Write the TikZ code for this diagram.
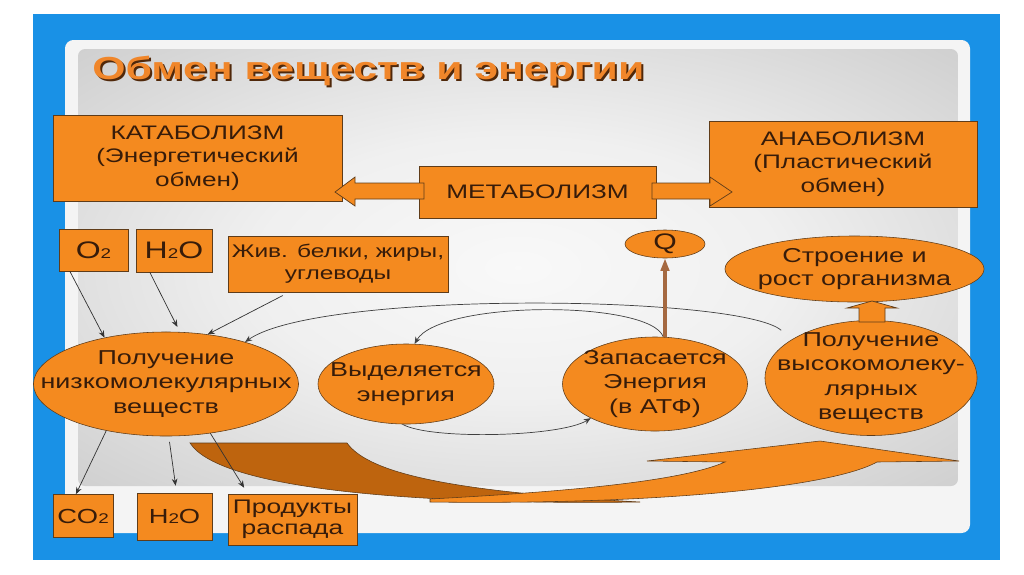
\documentclass[tikz,border=0pt]{standalone}
\usepackage{fontspec}
\setmainfont{Liberation Sans}[FakeStretch=1.34]
\usetikzlibrary{calc,arrows.meta,shapes.geometric}
\definecolor{slideblue}{RGB}{25,145,230}
\definecolor{slideorange}{RGB}{244,138,31}
\definecolor{darkorange}{RGB}{190,100,14}
\definecolor{edgebrown}{RGB}{95,60,25}
\definecolor{inkbrown}{RGB}{55,28,10}
\definecolor{stembrown}{RGB}{165,105,65}
\pgfdeclareradialshading{panelshade}{\pgfpoint{0bp}{0bp}}{color(0bp)=(gray!5); color(15bp)=(gray!12); color(50bp)=(gray!55); color(72bp)=(gray!75)}
\newcommand{\chemidx}[1]{{\fontsize{10}{10}\selectfont #1}}

\begin{document}
\begin{tikzpicture}[x=0.025cm, y=-0.025cm,
  box/.style={draw=edgebrown, fill=slideorange, text=inkbrown, align=center, inner sep=0pt, font=\fontsize{13.9}{16.8}\selectfont},
  blob/.style={draw=edgebrown, fill=slideorange, ellipse, inner sep=0pt},
  lbl/.style={align=center, text=inkbrown, inner sep=0pt, font=\fontsize{14.3}{17.4}\selectfont},
  barrow/.style={draw=edgebrown, fill=slideorange, line width=0.5pt},
  feed/.style={-{Stealth[length=5pt,width=4pt]}, black!80, line width=0.5pt},
  roundarrow/.style={-{Stealth[length=5pt,width=4pt]}, black!75, line width=0.5pt}]
  \useasboundingbox (0,0) rectangle (1024,574);

  % slide frame
  \fill[white] (0,0) rectangle (1024,574);
  \fill[slideblue] (33,14) rectangle (1000,560);
  \fill[gray!9, rounded corners=6] (65,40) rectangle (970,533);
  \shade[shading=panelshade, rounded corners=5] (78,49) rectangle (958,486);

  % title
  \node[anchor=base west, inner sep=0pt, text={rgb,255:red,80;green,40;blue,10}, font=\fontsize{22.7}{26}\selectfont\bfseries] (titleshade) at (94,81) {Обмен веществ и энергии};
  \node[anchor=base west, inner sep=0pt, text={rgb,255:red,240;green,134;blue,42}, font=\fontsize{22.7}{26}\selectfont\bfseries] (title) at (92,79) {Обмен веществ и энергии};

  % big curved arrow
  \filldraw[fill=darkorange, draw=edgebrown, line width=0.4pt] (190,443) -- (347,443) .. controls (370,475) and (460,492) .. (640,502) .. controls (420,505) and (220,490) .. (190,443) -- cycle;
  \filldraw[fill=slideorange, draw=edgebrown, line width=0.4pt] (430,499) .. controls (560,492) and (680,482) .. (725,462) -- (647,461) -- (820,441) -- (959,461) -- (877,462) .. controls (830,488) and (650,505) .. (430,502) -- cycle;

  % boxes
  \node[box, minimum width=7.225cm, minimum height=2.15cm] (kat) at (197.5,158) {КАТАБОЛИЗМ\\(Энергетический\\обмен)};
  \node[box, minimum width=5.925cm, minimum height=1.3cm] (meta) at (537.5,192) {МЕТАБОЛИЗМ};
  \node[box, minimum width=6.7cm, minimum height=2.15cm] (anab) at (843,164) {АНАБОЛИЗМ\\(Пластический\\обмен)};
  \node[box, minimum width=1.725cm, minimum height=1.05cm, font=\fontsize{17}{20}\selectfont] (o2) at (93.5,250) {O\chemidx{2}};
  \node[box, minimum width=1.9cm, minimum height=1.075cm, font=\fontsize{17}{20}\selectfont] (h2oin) at (174,250.5) {H\chemidx{2}O};
  \node[box, minimum width=5.5cm, minimum height=1.4cm, font=\fontsize{13}{15.6}\selectfont] (food) at (338,264) {Жив. белки, жиры,\\углеводы};
  \node[box, minimum width=1.5cm, minimum height=1.075cm, font=\fontsize{14.5}{17}\selectfont] (co2) at (83,516) {CO\chemidx{2}};
  \node[box, minimum width=1.875cm, minimum height=1.175cm, font=\fontsize{14.5}{17}\selectfont] (h2oout) at (174.5,516.5) {H\chemidx{2}O};
  \node[box, minimum width=3.225cm, minimum height=1.275cm, font=\fontsize{14}{15}\selectfont] (waste) at (292.5,519.5) {Продукты\\распада};

  % ellipses
  \node[blob, minimum width=2cm, minimum height=0.7cm, label={[lbl, font=\fontsize{16}{18}\selectfont]center:Q}] (q) at (665,244) {};
  \node[blob, minimum width=6.475cm, minimum height=1.65cm, label={[lbl, font=\fontsize{14.3}{16}\selectfont]center:Строение и\\рост организма}] (build) at (854.5,269) {};
  \node[blob, minimum width=6.625cm, minimum height=2.6cm, label={[lbl]center:Получение\\низкомолекулярных\\веществ}] (low) at (166,384) {};
  \node[blob, minimum width=4.4cm, minimum height=2cm, label={[lbl]center:Выделяется\\энергия}] (rel) at (406,384) {};
  \node[blob, minimum width=4.625cm, minimum height=2.35cm, label={[lbl]center:Запасается\\Энергия\\(в АТФ)}] (store) at (655,384) {};
  \node[blob, minimum width=5.3cm, minimum height=2.875cm, label={[lbl]center:Получение\\высокомолеку-\\лярных\\веществ}] (high) at (871,378) {};

  % block arrows
  \draw[barrow] (424,183) -- (355,183) -- (355,177) -- (335,192) -- (355,206) -- (355,199) -- (424,199) -- cycle;
  \draw[barrow] (652,183) -- (710,183) -- (710,177) -- (732,192) -- (710,206) -- (710,199) -- (652,199) -- cycle;
  \draw[barrow] (859,322) -- (859,308) -- (847,308) -- (872,301) -- (897,308) -- (885,308) -- (885,322) -- cycle;

  % inputs and outputs
  \draw[feed] (o2.222) -- (low.143);
  \draw[feed, shorten >=4pt] (h2oin.222) -- (low.75);
  \draw[feed, shorten <=5pt] (food.210) -- (low.50);
  \draw[feed] (low.218) -- (co2.108);
  \draw[feed, shorten <=4pt, shorten >=5pt] (low.-87) -- (h2oout.85);
  \draw[feed, shorten >=5pt] (low.-48) -- (waste.150);

  % energy cycle
  \draw[roundarrow, shorten <=10pt] (high.154) .. controls (740,295) and (320,290) .. (low.28);
  \draw[roundarrow] (store.80) .. controls (650,300) and (440,300) .. (rel.78);
  \draw[roundarrow] (rel.-95) .. controls (430,440) and (560,437) .. (store.208);
  \draw[-{Triangle[length=9pt,width=6pt]}, stembrown, line width=2.2pt] (q.south |- store.north) -- (q.south);
\end{tikzpicture}
\end{document}
